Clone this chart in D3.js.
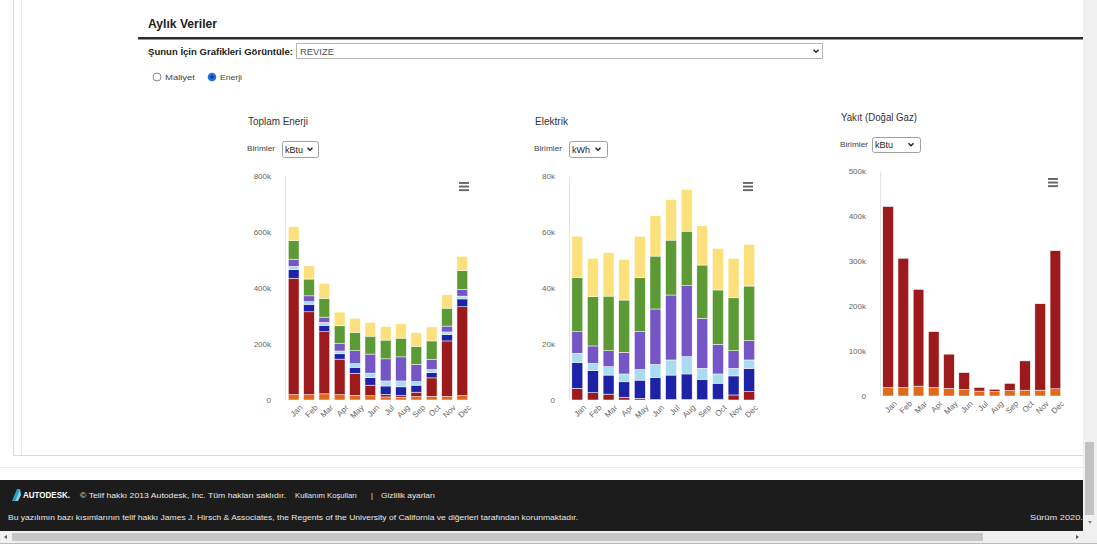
<!DOCTYPE html>
<html>
<head>
<meta charset="utf-8">
<script src="https://cdn.jsdelivr.net/npm/d3@7"></script>
<style>
	html, body { margin: 0; padding: 0; background: #fff; overflow: hidden; }
	svg text { font-family: "Liberation Sans", Arial, sans-serif; }
</style>
</head>
<body>
<svg id="page" width="1097" height="550"></svg>
<script>
// ---- data (values in thousands) ----
const months = ["Jan", "Feb", "Mar", "Apr", "May", "Jun", "Jul", "Aug", "Sep", "Oct", "Nov", "Dec"];

// Toplam Enerji (kBtu)
const totalHotWater  = [19, 19, 22, 19, 17, 15, 11, 10, 12, 13, 13, 16];
const totalSpaceHeat = [416, 296, 222, 127, 78, 38, 9, 6, 16, 66, 198, 317];
const totalPumps     = [31, 27, 23, 19, 22, 27, 30, 31, 25, 19, 23, 28];
const totalVentFans  = [11, 9, 10, 10, 13, 16, 18, 21, 13, 11, 9, 10];
const totalSpaceCool = [26, 21, 19, 26, 46, 68, 79, 86, 61, 36, 21, 24];
const totalMiscEquip = [66, 60, 67, 64, 66, 64, 67, 67, 65, 66, 64, 67];
const totalLights    = [50, 47, 53, 49, 50, 49, 49, 51, 48, 50, 48, 51];
const totalTicks = [0, 200, 400, 600, 800];

// Elektrik (kWh)
const elecSpaceHeat = [4.2, 2.6, 2.1, 1.0, 0.6, 0.2, 0.2, 0.2, 0.1, 0.3, 1.8, 3.0];
const elecPumps     = [9.2, 7.9, 6.8, 5.5, 6.5, 7.9, 8.7, 9.1, 7.3, 5.7, 6.8, 8.3];
const elecVentFans  = [3.3, 2.6, 3.0, 2.8, 3.8, 4.6, 5.4, 6.2, 3.9, 3.3, 2.7, 3.0];
const elecSpaceCool = [7.7, 6.2, 5.7, 7.7, 13.5, 19.8, 23.2, 25.3, 17.9, 10.6, 6.3, 6.9];
const elecMiscEquip = [19.4, 17.6, 19.5, 18.7, 19.4, 18.9, 19.6, 19.5, 19.0, 19.4, 18.9, 19.5];
const elecLights    = [14.7, 13.7, 15.5, 14.5, 14.7, 14.4, 14.5, 14.9, 14.0, 14.8, 14.1, 14.9];
const elecTicks = [0, 20, 40, 60, 80];

// Yakit (kBtu)
const gasHotWater  = [19, 19, 22, 19, 17, 15, 11, 10, 12, 13, 13, 16];
const gasSpaceHeat = [402, 287, 215, 124, 76, 37, 8, 5, 16, 65, 192, 307];
const gasTicks = [0, 100, 200, 300, 400, 500];

const colors = {
	hotWater: "#e2691b",
	spaceHeat: "#9c1a1c",
	pumps: "#1d22a6",
	ventFans: "#a9dcf2",
	spaceCool: "#7556c6",
	miscEquip: "#5b9a35",
	lights: "#fbe07c"
};

const svg = d3.select("#page");

/* ------------------------ page chrome ------------------------ */

// left panel borders
svg.append("line").attr("x1", 13.5).attr("x2", 13.5).attr("y1", 0).attr("y2", 456).attr("stroke", "#d8d8d8");
svg.append("line").attr("x1", 21.5).attr("x2", 21.5).attr("y1", 0).attr("y2", 456).attr("stroke", "#ececec");
svg.append("line").attr("x1", 13).attr("x2", 1083).attr("y1", 455.5).attr("y2", 455.5).attr("stroke", "#dcdcdc");
svg.append("line").attr("x1", 0).attr("x2", 1083).attr("y1", 467.5).attr("y2", 467.5).attr("stroke", "#eeeeee");

function txt(x, y, s, size, opts){
	opts = opts || {};
	let t = svg.append("text")
		.attr("x", x).attr("y", y)
		.attr("font-size", size)
		.attr("fill", opts.fill || "#333")
		.attr("font-weight", opts.bold ? "bold" : "normal")
		.attr("text-anchor", opts.anchor || "start")
		.text(s);
	if(opts.len) t.attr("textLength", opts.len).attr("lengthAdjust", "spacingAndGlyphs");
	return t;
}

function chevron(x, y, size){
	svg.append("path")
		.attr("d", `M${x - size},${y - size / 2} L${x},${y + size / 2} L${x + size},${y - size / 2}`)
		.attr("fill", "none").attr("stroke", "#222").attr("stroke-width", 1.4);
}

function selectBox(x, y, w, h, label, chevX){
	svg.append("rect").attr("x", x + 0.5).attr("y", y + 0.5).attr("width", w).attr("height", h)
		.attr("rx", 2).attr("fill", "#fff").attr("stroke", "#a0a0a0");
	txt(x + 3, y + h - 4, label, 9, { fill: "#222" });
	chevron(chevX, y + h / 2, 2.5);
}

txt(148, 28, "Aylık Veriler", 12.5, { bold: true, fill: "#222", len: 69 });
svg.append("rect").attr("x", 138).attr("y", 37).attr("width", 945).attr("height", 2.5).attr("fill", "#2b2b2b");

txt(148, 55, "Şunun İçin Grafikleri Görüntüle:", 9, { bold: true, fill: "#222", len: 145 });
svg.append("rect").attr("x", 296.5).attr("y", 43.5).attr("width", 526).attr("height", 15)
	.attr("fill", "#fff").attr("stroke", "#b5b5b5");
txt(300, 55, "REVIZE", 8.5, { fill: "#555", len: 34 });
chevron(816, 51, 2.5);

svg.append("circle").attr("cx", 157).attr("cy", 77).attr("r", 4).attr("fill", "#fff").attr("stroke", "#8a8a8a");
txt(165, 80, "Maliyet", 8, { fill: "#444", len: 30 });
svg.append("circle").attr("cx", 212).attr("cy", 77).attr("r", 4.3).attr("fill", "#1f6fe0");
svg.append("circle").attr("cx", 212).attr("cy", 77).attr("r", 1.6).attr("fill", "#0b2f7a");
txt(220, 80, "Enerji", 8, { fill: "#444", len: 22 });

/* -------------------------- charts -------------------------- */

function drawChart(cfg){
	txt(cfg.left, cfg.titleY, cfg.title, 10, { fill: "#333", len: cfg.titleLen });
	txt(cfg.left - 1, cfg.unitY, "Birimler", 7.5, { fill: "#444", len: 28 });
	selectBox(cfg.sel[0], cfg.sel[1], cfg.sel[2], cfg.sel[3], cfg.unit, cfg.sel[4]);

	let x = d3.scaleBand().domain(months).range(cfg.xRange).paddingInner(0.3).paddingOuter(0.15);
	let y = d3.scaleLinear().domain([0, d3.max(cfg.ticks)]).range(cfg.yRange);

	let rows = months.map((m, i) => {
		let row = { month: m };
		cfg.series.forEach(s => { row[s.key] = s.values[i]; });
		return row;
	});
	let stack = d3.stack().keys(cfg.series.map(s => s.key))(rows);

	// y axis
	let yAxis = svg.append("g")
		.attr("transform", `translate(${cfg.axisX},0)`)
		.attr("color", "#666")
		.call(d3.axisLeft(y).tickValues(cfg.ticks).tickSize(0).tickPadding(14)
			.tickFormat(d => d == 0 ? "0" : d + "k"));
	yAxis.select(".domain").attr("stroke", "#e2e2e2");
	yAxis.selectAll("text").attr("font-size", 8).attr("fill", "#666")
		.style("font-family", "\"Liberation Sans\", Arial, sans-serif");

	// bars
	svg.append("g").selectAll("g")
		.data(stack)
		.enter().append("g")
		.attr("fill", d => colors[d.key])
		.selectAll("rect")
		.data(d => d)
		.enter().append("rect")
		.attr("x", d => x(d.data.month))
		.attr("y", d => y(d[1]))
		.attr("width", x.bandwidth())
		.attr("height", d => Math.max(0, y(d[0]) - y(d[1])))
		.attr("stroke", "#fff")
		.attr("stroke-width", 0.5);

	// x axis labels
	let xAxis = svg.append("g")
		.attr("transform", `translate(0,${cfg.yRange[0]})`)
		.attr("color", "#666")
		.call(d3.axisBottom(x).tickSize(0).tickPadding(4));
	xAxis.select(".domain").remove();
	xAxis.selectAll("text")
		.attr("font-size", 8).attr("fill", "#666")
		.style("font-family", "\"Liberation Sans\", Arial, sans-serif")
		.attr("text-anchor", "end")
		.attr("dy", "0.6em")
		.attr("transform", "translate(3,2) rotate(-45)");

	// export menu icon
	for(let k = 0; k < 3; k++){
		svg.append("rect").attr("x", cfg.menu[0]).attr("y", cfg.menu[1] + k * 3.6)
			.attr("width", 10).attr("height", 1.9).attr("fill", "#666");
	}
}

drawChart({
	title: "Toplam Enerji", titleLen: 60, left: 248, titleY: 125, unitY: 151, unit: "kBtu",
	sel: [282, 141, 36, 16, 310],
	axisX: 285, xRange: [286, 470], yRange: [400, 176], ticks: totalTicks,
	menu: [459, 182],
	series: [
		{ key: "hotWater", values: totalHotWater },
		{ key: "spaceHeat", values: totalSpaceHeat },
		{ key: "pumps", values: totalPumps },
		{ key: "ventFans", values: totalVentFans },
		{ key: "spaceCool", values: totalSpaceCool },
		{ key: "miscEquip", values: totalMiscEquip },
		{ key: "lights", values: totalLights }
	]
});

drawChart({
	title: "Elektrik", titleLen: 33, left: 535, titleY: 125, unitY: 151, unit: "kWh",
	sel: [569, 141, 38, 16, 598],
	axisX: 569, xRange: [569.5, 757], yRange: [400, 176], ticks: elecTicks,
	menu: [743, 182],
	series: [
		{ key: "spaceHeat", values: elecSpaceHeat },
		{ key: "pumps", values: elecPumps },
		{ key: "ventFans", values: elecVentFans },
		{ key: "spaceCool", values: elecSpaceCool },
		{ key: "miscEquip", values: elecMiscEquip },
		{ key: "lights", values: elecLights }
	]
});

drawChart({
	title: "Yakıt (Doğal Gaz)", titleLen: 76, left: 841, titleY: 121, unitY: 147, unit: "kBtu",
	sel: [872, 137, 48, 15, 911],
	axisX: 880, xRange: [880.5, 1063], yRange: [396, 171], ticks: gasTicks,
	menu: [1048, 178],
	series: [
		{ key: "hotWater", values: gasHotWater },
		{ key: "spaceHeat", values: gasSpaceHeat }
	]
});

/* -------------------------- footer -------------------------- */

svg.append("rect").attr("x", 0).attr("y", 480).attr("width", 1083).attr("height", 51).attr("fill", "#1c1c1c");
svg.append("path").attr("d", "M12,501 L17,489 L20,489 L15,501 Z").attr("fill", "#2aa3c9");
svg.append("path").attr("d", "M15,501 L20,489 L21,495 L18,501 Z").attr("fill", "#7fd1e6");
txt(23, 498, "AUTODESK.", 8.5, { bold: true, fill: "#fff", len: 47 });
txt(80, 498, "© Telif hakkı 2013 Autodesk, Inc. Tüm hakları saklıdır.", 7.5, { fill: "#e8e8e8", len: 206 });
txt(295, 498, "Kullanım Koşulları", 7.5, { fill: "#e8e8e8", len: 62 });
txt(371, 498, "|", 7.5, { fill: "#e8e8e8" });
txt(381, 498, "Gizlilik ayarları", 7.5, { fill: "#e8e8e8", len: 54 });
txt(8, 520, "Bu yazılımın bazı kısımlarının telif hakkı James J. Hirsch & Associates, the Regents of the University of California ve diğerleri tarafından korunmaktadır.", 7.5, { fill: "#e8e8e8", len: 570 });
txt(1030, 520, "Sürüm 2020.0", 7.5, { fill: "#e8e8e8", len: 58 });

// scrollbars
svg.append("rect").attr("x", 1083).attr("y", 0).attr("width", 14).attr("height", 532).attr("fill", "#f0f0f0");
svg.append("rect").attr("x", 1085).attr("y", 442).attr("width", 9).attr("height", 73).attr("fill", "#c2c2c2");
svg.append("path").attr("d", "M1088,521 L1092,521 L1090,524 Z").attr("fill", "#888");
svg.append("rect").attr("x", 0).attr("y", 531).attr("width", 1097).attr("height", 12).attr("fill", "#f0f0f0");
svg.append("rect").attr("x", 12).attr("y", 533).attr("width", 971).attr("height", 8).attr("fill", "#c6c6c6");
svg.append("path").attr("d", "M7,535 L7,539 L4,537 Z").attr("fill", "#555");
svg.append("path").attr("d", "M1076,535 L1076,539 L1079,537 Z").attr("fill", "#555");
svg.append("rect").attr("x", 0).attr("y", 543).attr("width", 1097).attr("height", 1).attr("fill", "#bbb");
</script>
</body>
</html>
